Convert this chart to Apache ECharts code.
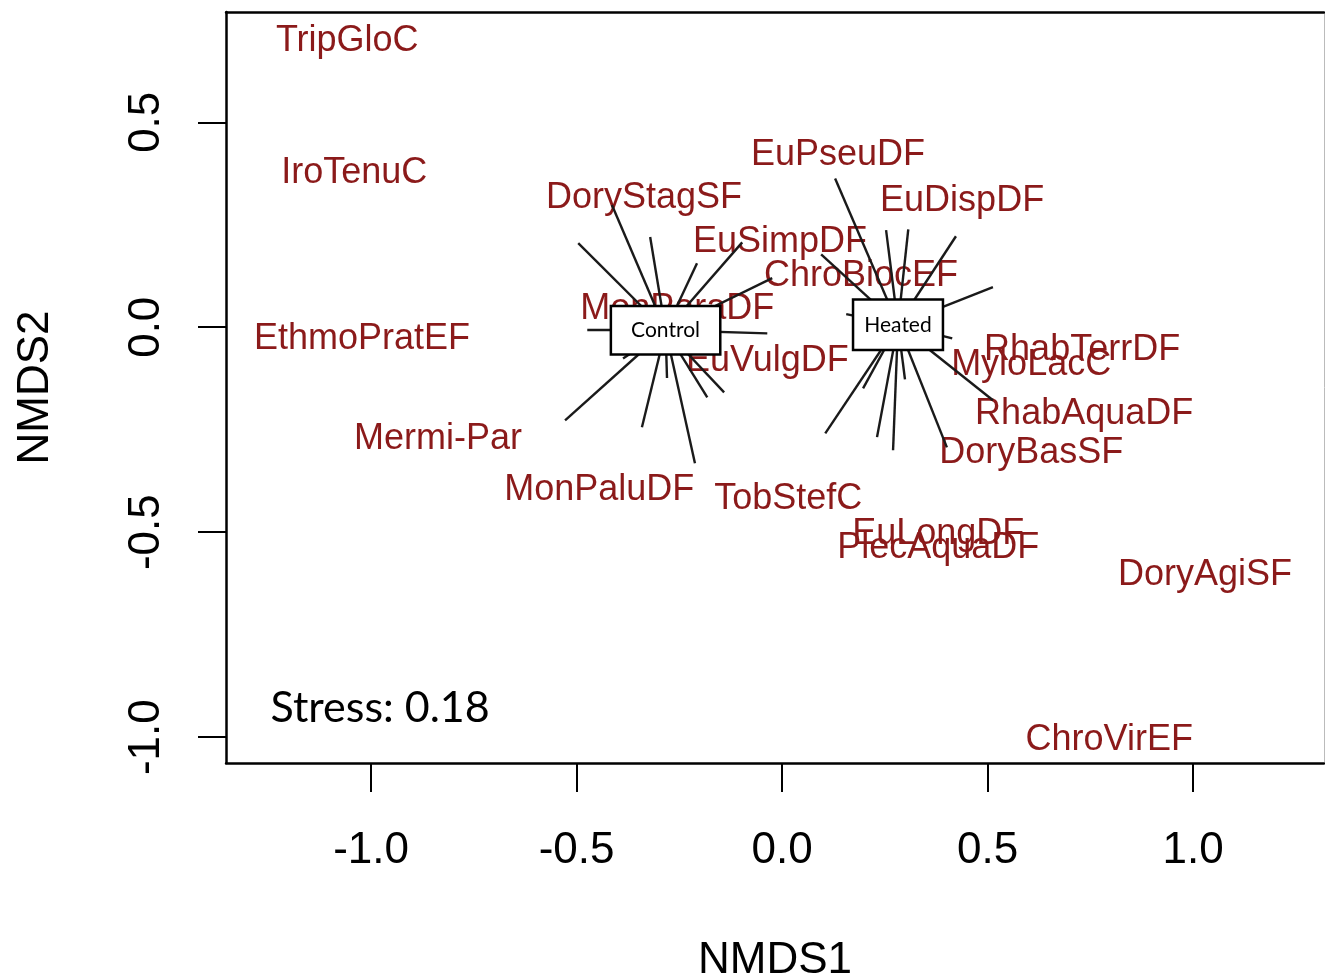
<!DOCTYPE html>
<html><head><meta charset="utf-8">
<script src="https://cdn.jsdelivr.net/npm/echarts@6/dist/echarts.min.js"></script>
<style>html,body{margin:0;padding:0;background:#fff}#c{width:1325px;height:978px}</style>
</head><body><div id="c"></div>
<script>
// Species scores (NMDS1, NMDS2)
const speciesNames = ['TripGloC','IroTenuC','EuPseuDF','DoryStagSF','EuDispDF','EuSimpDF','ChroBiocEF','MonParaDF','EthmoPratEF','EuVulgDF','RhabTerrDF','MyloLacC','RhabAquaDF','Mermi-Par','DoryBasSF','MonPaluDF','TobStefC','EuLongDF','PlecAquaDF','DoryAgiSF','ChroVirEF'];
const speciesX = [-1.058,-1.041,0.136,-0.336,0.438,-0.005,0.192,-0.255,-1.022,-0.036,0.730,0.606,0.735,-0.837,0.606,-0.445,0.015,0.380,0.380,1.029,0.796];
const speciesY = [0.705,0.383,0.427,0.322,0.315,0.215,0.132,0.051,-0.022,-0.076,-0.049,-0.085,-0.205,-0.266,-0.300,-0.390,-0.412,-0.498,-0.532,-0.598,-1.000];

// Group centroids
const groupNames = ['Control','Heated'];
const centroidX = [-0.2835, 0.282];
const centroidY = [-0.0073, 0.0061];

// Site scores per group
const controlSiteX = [-0.496,-0.414,-0.321,-0.207,-0.097,-0.024,-0.474,-0.036,-0.528,-0.341,-0.212,-0.280,-0.182,-0.141,-0.387];
const controlSiteY = [0.205,0.298,0.220,0.156,0.207,0.120,-0.007,-0.015,-0.227,-0.244,-0.332,-0.124,-0.171,-0.159,-0.076];
const heatedSiteX = [0.129,0.253,0.307,0.423,0.513,0.095,0.156,0.414,0.513,0.105,0.197,0.231,0.270,0.299,0.401];
const heatedSiteY = [0.363,0.237,0.239,0.222,0.098,0.178,0.032,-0.027,-0.178,-0.259,-0.149,-0.268,-0.300,-0.127,-0.293];

const tickValues = [-1.0,-0.5,0.0,0.5,1.0];
const stressText = 'Stress: 0.18';
const stressPos = [-0.978, -0.929];

const X_MIN = -1.353, X_MAX = 1.3185, Y_MIN = -1.063, Y_MAX = 0.769;

const spiderData = [];
controlSiteX.forEach((x,i)=>spiderData.push({coords:[[centroidX[0],centroidY[0]],[x,controlSiteY[i]]]}));
heatedSiteX.forEach((x,i)=>spiderData.push({coords:[[centroidX[1],centroidY[1]],[x,heatedSiteY[i]]]}));

const speciesData = speciesNames.map((n,i)=>({value:[speciesX[i],speciesY[i]], name:n}));
const boxPad = [[11,19],[12,10]];
const groupData = groupNames.map((n,i)=>({value:[centroidX[i],centroidY[i]], name:n, label:{padding:boxPad[i]}}));

const axisFont = {fontFamily:'Liberation Sans', fontSize:44, lineHeight:44, color:'#000'};
const hiddenSym = {symbol:'circle', symbolSize:1, itemStyle:{color:'rgba(0,0,0,0)', opacity:1}, silent:true};

const chart = echarts.init(document.getElementById('c'), null, {renderer:'canvas'});
chart.setOption({
  animation:false,
  backgroundColor:'#fff',
  grid:{left:226, top:12, width:1098, height:751, containLabel:false, outerBoundsMode:'none'},
  xAxis:[{
    type:'value', min:X_MIN, max:X_MAX, position:'bottom',
    axisLine:{show:true, onZero:false, lineStyle:{color:'#000', width:2.5}},
    axisTick:{show:true, length:29, customValues:tickValues, lineStyle:{color:'#000', width:2}},
    axisLabel:Object.assign({customValues:tickValues, margin:66, formatter:v=>v.toFixed(1)}, axisFont),
    splitLine:{show:false},
    name:'NMDS1', nameLocation:'middle', nameGap:176, nameMoveOverlap:false, nameTextStyle:axisFont
  },{
    type:'value', min:X_MIN, max:X_MAX, position:'top',
    axisLine:{show:true, onZero:false, lineStyle:{color:'#000', width:2.5}},
    axisTick:{show:false}, axisLabel:{show:false}, splitLine:{show:false}
  }],
  yAxis:[{
    type:'value', min:Y_MIN, max:Y_MAX, position:'left',
    axisLine:{show:true, onZero:false, lineStyle:{color:'#000', width:2.5}},
    axisTick:{show:true, length:28, customValues:tickValues, lineStyle:{color:'#000', width:2}},
    axisLabel:Object.assign({customValues:tickValues, margin:57, rotate:90, formatter:v=>v.toFixed(1)}, axisFont),
    splitLine:{show:false},
    name:'NMDS2', nameLocation:'middle', nameGap:168, nameRotate:90, nameMoveOverlap:false, nameTextStyle:axisFont
  },{
    type:'value', min:Y_MIN, max:Y_MAX, position:'right',
    axisLine:{show:true, onZero:false, lineStyle:{color:'#bbb', width:1}},
    axisTick:{show:false}, axisLabel:{show:false}, splitLine:{show:false}
  }],
  series:[
    Object.assign({
      type:'scatter', name:'species', z:3,
      label:{show:true, position:'inside', offset:[0,3], formatter:p=>p.name, color:'#8B1A1A', fontFamily:'Liberation Sans', fontSize:36},
      data:speciesData
    }, hiddenSym),
    {
      type:'lines', coordinateSystem:'cartesian2d', z:4,
      lineStyle:{color:'#1a1a1a', width:2.4, opacity:1}, data:spiderData, silent:true
    },
    Object.assign({
      type:'scatter', name:'groups', z:5,
      label:{show:true, position:'inside', formatter:p=>p.name, color:'#000', fontFamily:'Lato', fontSize:21, lineHeight:24,
        backgroundColor:'#fff', borderColor:'#000', borderWidth:2.5},
      data:groupData
    }, hiddenSym),
    Object.assign({
      type:'scatter', name:'stress', z:5,
      label:{show:true, position:'inside', formatter:stressText, color:'#000', fontFamily:'Lato', fontSize:43},
      data:[stressPos]
    }, hiddenSym)
  ]
});
</script></body></html>
